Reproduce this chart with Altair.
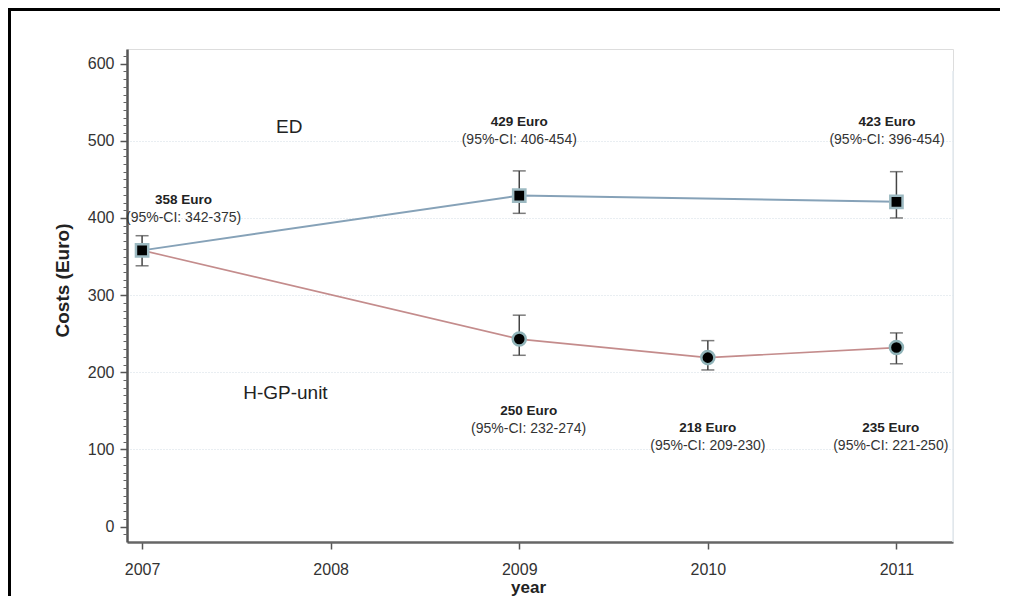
import altair as alt
import pandas as pd

# ---- data ----
ed_year = [2007, 2009, 2011]
ed_cost = [358, 429, 421]
ed_lo = [338, 406, 400]
ed_hi = [377, 461, 460]

gp_year = [2007, 2009, 2010, 2011]
gp_cost = [358, 243, 219, 232]
gp_lo = [338, 222, 203, 211]
gp_hi = [377, 274, 241, 251]

# annotations
lab_x = [2007.22, 2009.0, 2010.95, 2009.05, 2010.0, 2010.97]
lab_y = [423, 525, 525, 150, 128, 128]
lab_mean = ["358 Euro", "429 Euro", "423 Euro", "250 Euro", "218 Euro", "235 Euro"]
lab_ci = ["(95%-CI:  342-375)", "(95%-CI:  406-454)", "(95%-CI:  396-454)",
          "(95%-CI:  232-274)", "(95%-CI:  209-230)", "(95%-CI:  221-250)"]

grp_name = ["ED", "H-GP-unit"]
grp_x = [2007.78, 2007.76]
grp_y = [518, 173]

year_ticks = [2007, 2008, 2009, 2010, 2011]
cost_ticks = [0, 100, 200, 300, 400, 500, 600]
minor_ticks = [v for v in range(-10, 620, 10) if v % 100 != 0]

ed = pd.DataFrame({"year": ed_year, "cost": ed_cost, "lo": ed_lo, "hi": ed_hi})
gp = pd.DataFrame({"year": gp_year, "cost": gp_cost, "lo": gp_lo, "hi": gp_hi})
err = pd.concat([ed, gp.iloc[1:]], ignore_index=True)
labs = pd.DataFrame({"year": lab_x, "y": lab_y, "mean": lab_mean, "ci": lab_ci})
grps = pd.DataFrame({"year": grp_x, "y": grp_y, "name": grp_name})
one = pd.DataFrame({"k": [0]})

FONT = "Liberation Sans"
xscale = alt.Scale(domain=[2006.92, 2011.30], nice=False, zero=False)
yscale = alt.Scale(domain=[-20, 619], nice=False, zero=False)

x_axis = alt.Axis(values=year_ticks, format="d", title="year", grid=False,
                  domainColor="#666", domainWidth=2.5, tickColor="#555", tickWidth=1.5,
                  tickSize=7, labelFontSize=16, labelColor="#333", labelFont=FONT,
                  labelPadding=12, titleFont=FONT, titleFontSize=17, titleFontWeight="bold",
                  titleColor="#222", titleX=401, titleY=45, titleBaseline="middle",
                  titleAlign="center")
y_axis = alt.Axis(values=cost_ticks, title="Costs  (Euro)", orient="left",
                  domainColor="#555", domainWidth=2.5, tickColor="#555", tickWidth=1.5,
                  tickSize=7, labelFontSize=16, labelColor="#333", labelFont=FONT,
                  labelPadding=6, grid=True, gridColor="#d3dde4", gridDash=[1, 2],
                  gridWidth=1,
                  gridOpacity={"condition": {"test": "datum.value == 0 || datum.value == 600", "value": 0}, "value": 1},
                  titleFont=FONT, titleFontSize=19, titleFontWeight="bold", titleColor="#222",
                  titleAngle=270, titleX=-65, titleY=231, titleAlign="center",
                  titleBaseline="middle")
y_minor = alt.Axis(values=minor_ticks, orient="left", labels=False, domain=False,
                   grid=False, title=None, tickColor="#666", tickWidth=1, tickSize=4)

X = alt.X("year:Q", scale=xscale, axis=x_axis)

ed_line = alt.Chart(ed).mark_line(color="#86a2b8", strokeWidth=2).encode(
    x=X, y=alt.Y("cost:Q", scale=yscale, axis=y_axis))
gp_line = alt.Chart(gp).mark_line(color="#c48c8c", strokeWidth=1.6).encode(
    x=X, y=alt.Y("cost:Q", scale=yscale, axis=None))

err_rule = alt.Chart(err).mark_rule(color="#444", strokeWidth=1.5).encode(
    x=X, y=alt.Y("lo:Q", scale=yscale, axis=y_minor), y2="hi:Q")
cap_lo = alt.Chart(err).mark_tick(color="#444", thickness=1.5, size=13, orient="horizontal").encode(
    x=X, y=alt.Y("lo:Q", scale=yscale, axis=None))
cap_hi = alt.Chart(err).mark_tick(color="#444", thickness=1.5, size=13, orient="horizontal").encode(
    x=X, y=alt.Y("hi:Q", scale=yscale, axis=None))

ed_pts = alt.Chart(ed).mark_square(size=150, color="black", opacity=1,
                                   stroke="#9dbac2", strokeWidth=2.5).encode(
    x=X, y=alt.Y("cost:Q", scale=yscale, axis=None))
gp_pts = alt.Chart(gp).transform_filter("datum.year > 2007").mark_circle(
    size=170, color="black", opacity=1, stroke="#8fb3b8", strokeWidth=2.5).encode(
    x=X, y=alt.Y("cost:Q", scale=yscale, axis=None))

t_mean = alt.Chart(labs).mark_text(font=FONT, fontSize=13.5, fontWeight="bold",
                                   color="#222", align="center", baseline="middle").encode(
    x=X, y=alt.Y("y:Q", scale=yscale, axis=None), text="mean:N")
t_ci = alt.Chart(labs).mark_text(font=FONT, fontSize=14, color="#333", align="center",
                                 baseline="middle", dy=18).encode(
    x=X, y=alt.Y("y:Q", scale=yscale, axis=None), text="ci:N")
t_grp = alt.Chart(grps).mark_text(font=FONT, fontSize=19, color="#222", align="center",
                                  baseline="middle").encode(
    x=X, y=alt.Y("y:Q", scale=yscale, axis=None), text="name:N")

right_line = alt.Chart(one).mark_rule(color="#e3eaef", strokeWidth=1.5).encode(
    x=alt.value(826), y=alt.value(22), y2=alt.value(493))
frame_top = alt.Chart(one).mark_rule(color="black", strokeWidth=3).encode(
    x=alt.value(-119), x2=alt.value(873), y=alt.value(-39.5))
frame_left = alt.Chart(one).mark_rule(color="black", strokeWidth=3).encode(
    x=alt.value(-117.5), y=alt.value(-41), y2=alt.value(560))

chart = alt.layer(
    right_line, ed_line, gp_line, err_rule, cap_lo, cap_hi, ed_pts, gp_pts,
    t_mean, t_ci, t_grp, frame_top, frame_left
).resolve_axis(y="independent").properties(
    width=826, height=493,
    padding={"left": 119, "top": 41, "right": 47, "bottom": 54},
    autosize=alt.AutoSizeParams(type="none"),
).configure_view(stroke=None).configure(background="white")

chart.save("out.html", embed_options={"renderer": "svg", "actions": False})
